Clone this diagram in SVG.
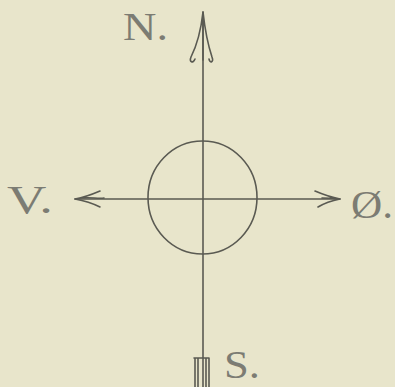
<svg xmlns="http://www.w3.org/2000/svg" width="395" height="387" viewBox="0 0 395 387">
<style>
.ink{fill:none;stroke:#5a5a52;stroke-width:1.6;stroke-linecap:round;stroke-linejoin:round}
.lbl{font-family:"Liberation Serif","DejaVu Serif",serif;font-size:40px;fill:#7c7c73}
</style>
<rect width="395" height="387" fill="#e8e5cb"/>
<g id="connectors">
<path class="ink" d="M203 12 V387"/>
<path class="ink" d="M75 199 H340"/>
<path class="ink" d="M203 12 C201 30 197 45 191 57 C189 62 193 64 195 59 M203 12 C205 30 208 45 212 57 C214 62 210 64 209 59 M203 12 V60"/>
<path class="ink" stroke-width="2.2" d="M75 199 C86 197 93 194 100 191 M75 199 C86 201 94 204 100 207 M75 199 C88 196 96 199 104 198"/>
<path class="ink" stroke-width="2.2" d="M340 199 C330 197 322 194 315 191 M340 199 C330 201 323 204 318 207 M338 199 C332 198 328 198 322 198"/>
<path class="ink" d="M195 358 V387 M198 358 V387 M206 358 V387 M209 358 V387 M194 358 H209"/>
</g>
<g id="circle">
<ellipse class="ink" cx="202.5" cy="197.5" rx="54.5" ry="56.5"/>
</g>
<g id="label-n"><text class="lbl" x="123" y="40" textLength="45" lengthAdjust="spacingAndGlyphs">N.</text></g>
<g id="label-v"><text class="lbl" x="7" y="213" textLength="46" lengthAdjust="spacingAndGlyphs">V.</text></g>
<g id="label-o"><text class="lbl" x="351" y="218" textLength="42" lengthAdjust="spacingAndGlyphs">Ø.</text></g>
<g id="label-s"><text class="lbl" x="224" y="378" font-size="36" textLength="36" lengthAdjust="spacingAndGlyphs">S.</text></g>
</svg>
